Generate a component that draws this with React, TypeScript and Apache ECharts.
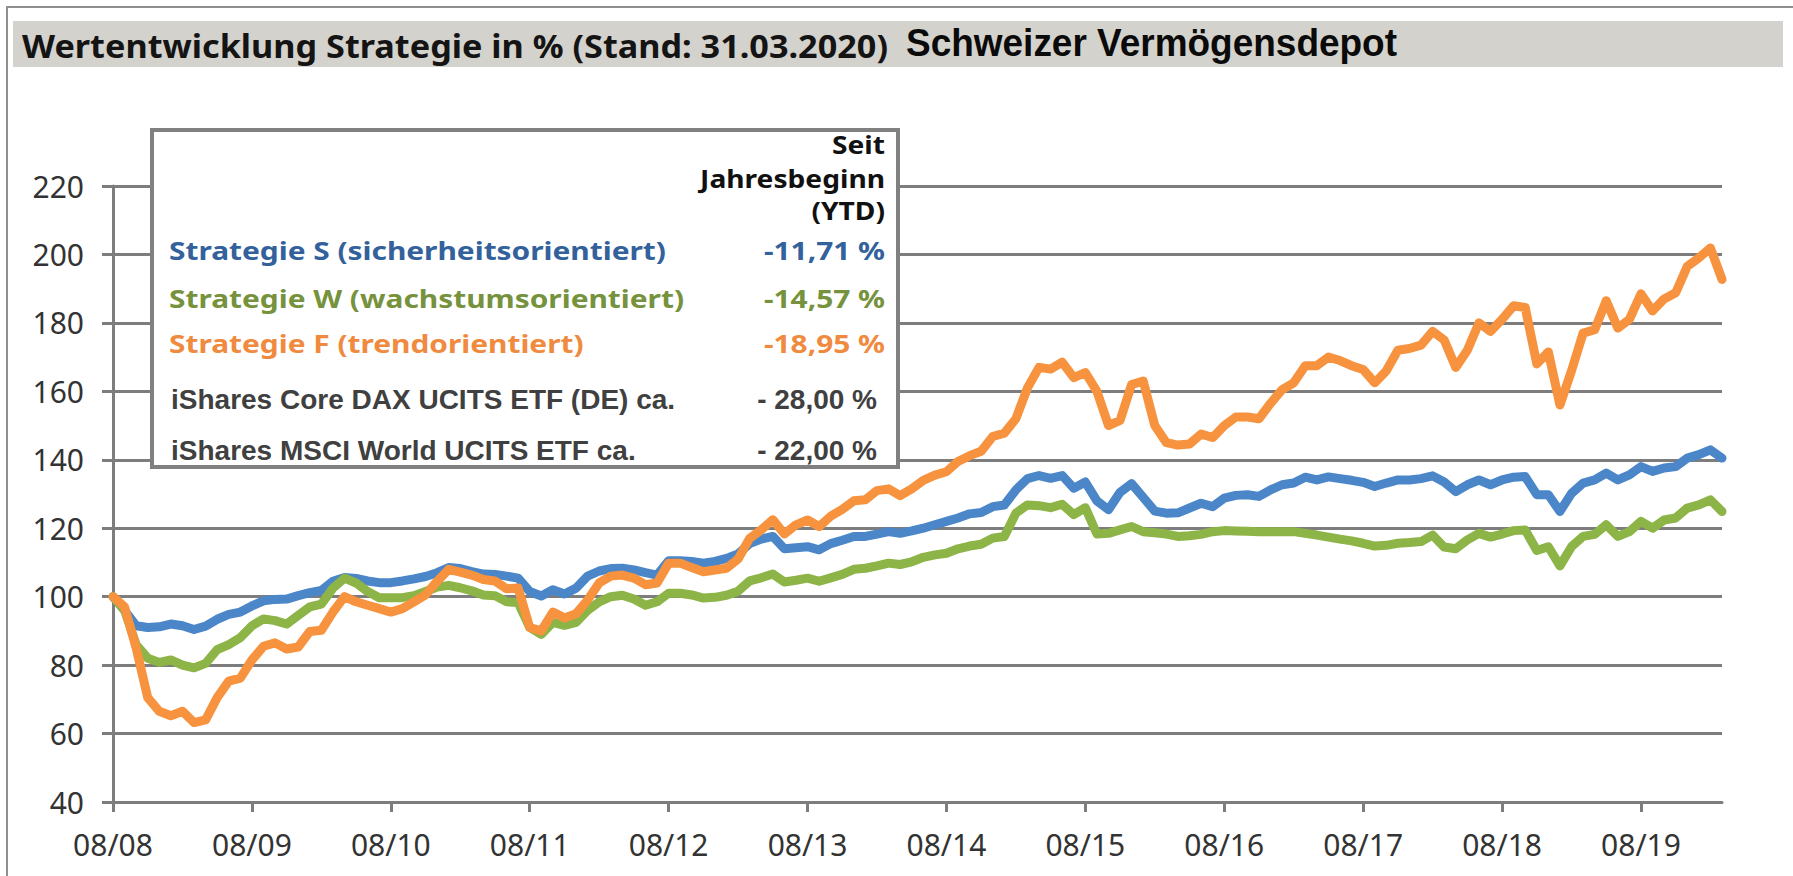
import React, { useEffect, useRef } from "react";
import * as echarts from "echarts";

// ---------- data (monthly, 08/2008 .. 03/2020) ----------
const startYear = 2008;
const startMonth = 8;
const yearTickLabels = ["08/08", "08/09", "08/10", "08/11", "08/12", "08/13", "08/14", "08/15", "08/16", "08/17", "08/18", "08/19"];

const strategieS = [
  100, 96, 91.5, 91, 91.2, 92, 91.5, 90.4, 91.4, 93.4, 94.8, 95.5,
  97.3, 98.8, 99.2, 99.3, 100.3, 101.2, 101.8, 104.5, 105.6, 105.3, 104.6, 104.1,
  104.1, 104.6, 105.2, 105.9, 107, 108.5, 108.2, 107.3, 106.6, 106.5, 106, 105.4,
  101.5, 100.2, 102, 100.8, 102.5, 106, 107.5, 108.2, 108.3, 107.8, 107, 106.3,
  110.5, 110.5, 110.3, 109.8, 110.3, 111.2, 112.5, 115.5, 116.8, 117.6, 114, 114.3,
  114.6, 113.7, 115.5, 116.5, 117.6, 117.6, 118.3, 119, 118.5, 119.2, 120, 121,
  122, 123, 124.2, 124.6, 126.3, 126.8, 131.2, 134.5, 135.4, 134.6, 135.4, 131.7,
  133.5, 128, 125.4, 130.5, 133, 129, 125, 124.4, 124.5, 125.9, 127.3, 126.3,
  128.8, 129.6, 129.8, 129.3, 131.2, 132.7, 133.2, 134.9, 134.1, 135, 134.5, 134,
  133.4, 132.2, 133.2, 134.1, 134.1, 134.5, 135.3, 133.5, 130.7, 132.7, 134.1, 132.7,
  134.1, 134.9, 135.1, 129.8, 129.8, 124.9, 130.2, 133.2, 134.1, 136.1, 134.1, 135.6,
  138, 136.6, 137.6, 138, 140.5, 141.5, 142.9, 140.5,
];

const strategieW = [
  100, 96, 86, 82, 80.8, 81.5, 80, 79.2, 80.5, 84.5, 86, 88,
  91.5, 93.5, 93, 92, 94.5, 97, 97.8, 102.5, 105.4, 104, 101.5, 99.7,
  99.7, 99.7, 100.3, 101.5, 102.8, 103.3, 102.6, 101.7, 100.5, 100.3, 98.5, 98.3,
  91, 89, 92.5, 91.6, 92.5, 96, 98.5, 100, 100.4, 99.3, 97.5, 98.5,
  101, 101, 100.5, 99.6, 99.8, 100.4, 101.6, 104.6, 105.5, 106.6, 104.3, 104.8,
  105.4, 104.5, 105.5, 106.5, 108, 108.3, 109, 109.8, 109.4, 110.2, 111.5, 112.2,
  112.7, 114, 114.8, 115.3, 117.1, 117.6, 124.4, 126.8, 126.6, 126, 127, 124,
  126, 118.3, 118.5, 119.5, 120.5, 119, 118.7, 118.3, 117.6, 117.8, 118.2, 119,
  119.3, 119.2, 119.1, 119, 119, 119, 119, 118.5, 118, 117.4, 116.8, 116.3,
  115.6, 114.8, 115, 115.6, 115.8, 116.1, 118, 114.5, 114, 116.6, 118.5, 117.4,
  118.3, 119.3, 119.5, 113.5, 114.6, 109, 114.6, 117.6, 118.2, 121, 117.6, 119,
  122, 120, 122.4, 123, 125.9, 126.8, 128.3, 124.9,
];

const strategieF = [
  100, 97, 85, 70.5, 66.5, 65.2, 66.5, 63.2, 64, 70.5, 75.3, 76.2,
  81.5, 85.5, 86.5, 84.7, 85.3, 89.8, 90.2, 95.5, 100, 98.5, 97.5, 96.5,
  95.5, 96.5, 98.5, 100.5, 104.5, 108, 107.2, 106.3, 105, 104.6, 102.3, 102.5,
  91, 90, 95.5, 93.8, 95, 99, 104, 106, 106.3, 105.4, 103.5, 104,
  109.8, 109.8, 108.5, 107.3, 107.8, 108.3, 111, 117, 119.5, 122.5, 118.3, 121,
  122.4, 120.5, 123.5, 125.5, 128, 128.3, 131, 131.5, 129.5, 131.5, 134, 135.5,
  136.5, 139.5, 141.2, 142.5, 146.8, 147.8, 152, 161, 167, 166.5, 168.5, 164,
  165.5, 160, 150, 151.5, 162, 163, 150, 145, 144.3, 144.6, 147.5, 146.5,
  150, 152.5, 152.5, 152, 156.5, 160.5, 162.5, 167.5, 167.5, 170, 169, 167.5,
  166.4, 162.5, 166, 172, 172.5, 173.5, 177.5, 175, 167, 172, 180, 177.5,
  181, 185, 184.5, 168, 171.5, 156, 166, 177, 178, 186.5, 178.5, 181,
  188.5, 183.5, 187, 188.8, 196.5, 199, 201.9, 192.7,
];

const legendNames = [
  "Strategie S (sicherheitsorientiert)",
  "Strategie W (wachstumsorientiert)",
  "Strategie F (trendorientiert)",
];
const legendValues = ["-11,71 %", "-14,57 %", "-18,95 %"];
const etfNames = ["iShares Core DAX UCITS ETF (DE) ca.", "iShares MSCI World UCITS ETF ca."];
const etfValues = ["- 28,00 %", "- 22,00 %"];
const headerLines = ["Seit", "Jahresbeginn", "(YTD)"];
const titleText = "Wertentwicklung Strategie in % (Stand: 31.03.2020)";
const subTitleText = "Schweizer Vermögensdepot";

// ---------- styling ----------
const W = 1793;
const H = 876;
const lineColors = ["#4A86C8", "#8DB447", "#F7923E"];
const textColors = ["#33619C", "#76923C", "#F08A3E"];
const gridGray = "#7d7d7d";

const measureCtx = document.createElement("canvas").getContext("2d") as CanvasRenderingContext2D;
function fitScale(text: string, font: string, target: number): number {
  measureCtx.font = font;
  const w = measureCtx.measureText(text).width;
  return w > 0 ? target / w : 1;
}

const categories: string[] = [];
for (let i = 0; i < strategieS.length; i++) {
  const m0 = startMonth - 1 + i;
  const m = (m0 % 12) + 1;
  const y = startYear + Math.floor(m0 / 12);
  categories.push(String(m).padStart(2, "0") + "/" + String(y % 100).padStart(2, "0"));
}

export default function App() {
  const ref = useRef<HTMLDivElement>(null);
  useEffect(() => {
    if (!ref.current) return;
    const chart = echarts.init(ref.current, null, { renderer: "svg" });

    const titleFont = "bold 33px 'Noto Sans'";
    const subFont = "bold 38px 'Liberation Sans'";
    const stratFont = "bold 25px 'Noto Sans'";
    const etfFont = "bold 28px 'Liberation Sans'";

    const titleSx = fitScale(titleText, titleFont, 866);
    const subSx = fitScale(subTitleText, subFont, 491);
    const stratSx = fitScale(legendNames[0], stratFont, 497);
    const etfSx = fitScale(etfNames[0], etfFont, 504);
    const headSx = fitScale(headerLines[1], stratFont, 185);

    const txt = (
      text: string, x: number, y: number, font: string, fill: string,
      align: string, sx: number, z = 110
    ) => ({
      type: "text", x, y, scaleX: sx, scaleY: 1, z,
      style: { text, x: 0, y: 0, font, fill, textAlign: align, textVerticalAlign: "middle" },
    });

    const rowY = [250, 298, 343];
    const etfY = [399, 450];
    const headY = [145, 179, 211];

    const graphics: any[] = [
      { type: "rect", z: 1, shape: { x: 13, y: 21, width: 1770, height: 46 }, style: { fill: "#D4D2CC" } },
      { type: "line", z: 1, shape: { x1: 6, y1: 7, x2: W, y2: 7 }, style: { stroke: "#8f8f8f", lineWidth: 2 } },
      { type: "line", z: 1, shape: { x1: 7, y1: 6, x2: 7, y2: H }, style: { stroke: "#8f8f8f", lineWidth: 2 } },
      txt(titleText, 22, 45, titleFont, "#141414", "left", titleSx, 2),
      txt(subTitleText, 906, 43, subFont, "#0a0a0a", "left", subSx, 2),
      { type: "rect", z: 100, shape: { x: 152, y: 130, width: 746, height: 337 }, style: { fill: "#ffffff", stroke: "#808080", lineWidth: 4 } },
    ];
    headerLines.forEach((t, i) => graphics.push(txt(t, 885, headY[i], stratFont, "#111111", "right", headSx)));
    legendNames.forEach((t, i) => {
      graphics.push(txt(t, 169, rowY[i], stratFont, textColors[i], "left", stratSx));
      graphics.push(txt(legendValues[i], 885, rowY[i], stratFont, textColors[i], "right", stratSx));
    });
    etfNames.forEach((t, i) => {
      graphics.push(txt(t, 171, etfY[i], etfFont, "#404040", "left", etfSx));
      graphics.push(txt(etfValues[i], 877, etfY[i], etfFont, "#404040", "right", etfSx));
    });

    const isYearTick = (idx: number) => yearTickLabels.indexOf(categories[idx]) >= 0;

    const mkSeries = (name: string, data: number[], color: string, z: number) => ({
      name, type: "line", data, showSymbol: false, symbol: "none", z,
      lineStyle: { color, width: 9, join: "round", cap: "round" },
      itemStyle: { color },
      emphasis: { disabled: true },
    });

    chart.setOption({
      animation: false,
      grid: { left: 113, right: W - 1722, top: 186, bottom: H - 802, containLabel: false },
      xAxis: {
        type: "category",
        data: categories,
        boundaryGap: false,
        axisLine: { show: true, lineStyle: { color: gridGray, width: 3 } },
        axisTick: { show: true, interval: (idx: number) => isYearTick(idx), length: 10, lineStyle: { color: gridGray, width: 3 } },
        axisLabel: {
          interval: (idx: number) => isYearTick(idx),
          margin: 27,
          fontFamily: "'Noto Sans'",
          fontSize: 30,
          color: "#333333",
        },
        splitLine: { show: false },
      },
      yAxis: {
        type: "value",
        min: 40,
        max: 220,
        interval: 20,
        axisLine: { show: true, lineStyle: { color: gridGray, width: 3 } },
        axisTick: { show: true, length: 11, lineStyle: { color: gridGray, width: 3 } },
        axisLabel: { margin: 29, fontFamily: "'Noto Sans'", fontSize: 30, color: "#333333" },
        splitLine: { show: true, lineStyle: { color: gridGray, width: 3 } },
      },
      series: [
        mkSeries(legendNames[0], strategieS, lineColors[0], 3),
        mkSeries(legendNames[1], strategieW, lineColors[1], 4),
        mkSeries(legendNames[2], strategieF, lineColors[2], 5),
      ],
      graphic: graphics,
    });

    return () => chart.dispose();
  }, []);

  return (
    <div
      ref={ref}
      style={{ position: "fixed", left: 0, top: 0, width: W, height: H, background: "#ffffff" }}
    />
  );
}
